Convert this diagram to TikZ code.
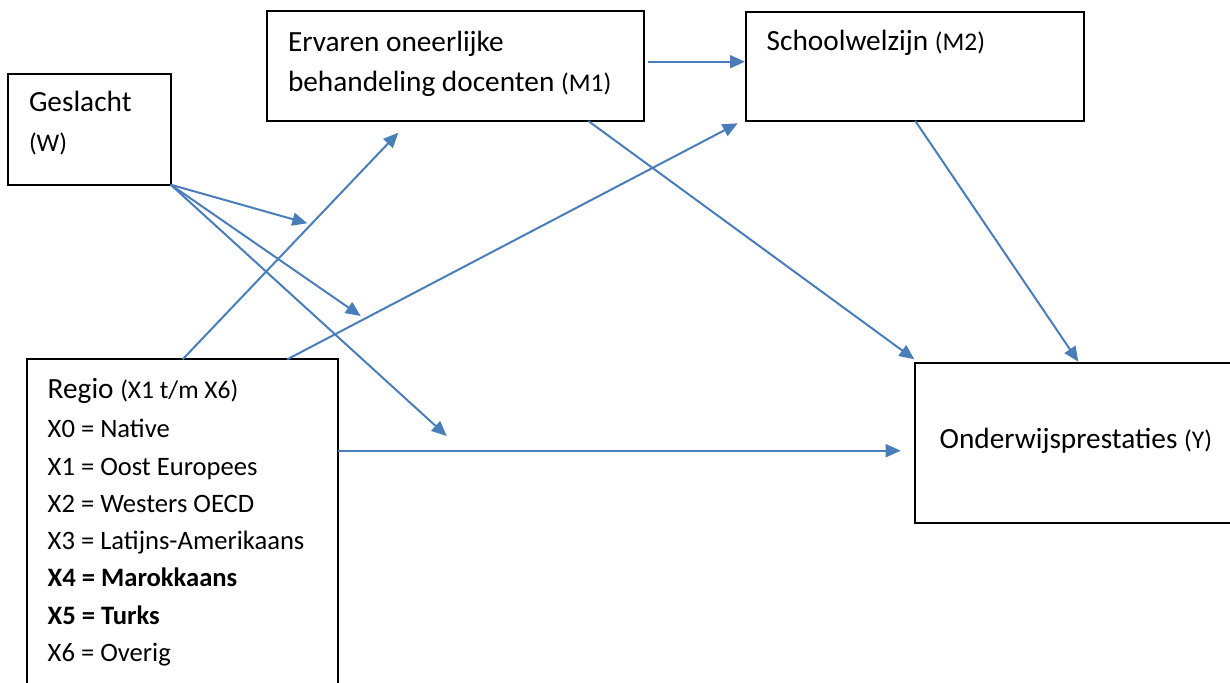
\documentclass[tikz,border=0pt]{standalone}
\usepackage{fontspec}
\setmainfont{Carlito}
\usetikzlibrary{arrows.meta,calc}
\definecolor{arrowblue}{RGB}{74,126,187}
\newcommand\mainsz{\fontsize{29.3}{35}\selectfont}
\newcommand\parsz{\fontsize{25.5}{30}\selectfont}
\newcommand\listsz{\fontsize{26.6}{32}\selectfont}
\tikzset{
  box/.style={draw=black,line width=2pt,inner sep=0pt,outer sep=0pt,anchor=north west},
  lbl/.style={anchor=base west,inner sep=0pt,outer sep=0pt,text=black},
  arr/.style={draw=arrowblue,line width=2pt,-{Triangle[length=15pt,width=13pt]}}
}
\begin{document}
\begin{tikzpicture}[x=1pt,y=-1pt]
\clip (0,0) rectangle (1230,682);
\fill[white] (0,0) rectangle (1230,682);
% boxes
\node[box,minimum width=162.4pt,minimum height=110.7pt] (gesl) at (8.3,74) {};
\node[box,minimum width=377pt,minimum height=110pt] (m1) at (267.3,11) {};
\node[box,minimum width=338pt,minimum height=109.3pt] (m2) at (746,11.7) {};
\node[box,minimum width=311pt,minimum height=340pt] (regio) at (26.7,359.3) {};
\node[box,minimum width=340pt,minimum height=159.7pt] (y) at (915,363) {};
% texts
\node[lbl] (geslt1) at (29,112) {\mainsz Geslacht};
\node[lbl] (geslt2) at (29,151.5) {\parsz (W)};
\node[lbl] (m1t1) at (288,51.7) {\mainsz Ervaren oneerlijke};
\node[lbl] (m1t2) at (288,91.7) {\mainsz behandeling docenten {\parsz(M1)}};
\node[lbl] (m2t) at (766.7,50.7) {\mainsz Schoolwelzijn {\parsz(M2)}};
\node[lbl] (rt0) at (47.7,398.3) {\mainsz Regio {\parsz(X1 t/m X6)}};
\node[lbl] (rt1) at (47.7,437) {\listsz X0 = Native};
\node[lbl] (rt2) at (47.7,475) {\listsz X1 = Oost Europees};
\node[lbl] (rt3) at (47.7,512) {\listsz X2 = Westers OECD};
\node[lbl] (rt4) at (47.7,549) {\listsz X3 = Latijns-Amerikaans};
\node[lbl] (rt5) at (47.7,586.7) {\listsz\bfseries X4 = Marokkaans};
\node[lbl] (rt6) at (47.7,624) {\listsz\bfseries X5 = Turks};
\node[lbl] (rt7) at (47.7,661.7) {\listsz X6 = Overig};
\node[lbl] (yt) at (939.7,448) {\mainsz Onderwijsprestaties {\parsz(Y)}};
% free ends
\coordinate (w1) at (307.3,223.3);
\coordinate (w2) at (360.7,316);
\coordinate (w3) at (446.7,436);
\coordinate (t1) at (398.3,132.7);
\coordinate (t2) at (737.7,123.3);
% connectors
\coordinate (m1out) at ($(m1.north east)+(3.4,50.7)$);
\draw[arr] (m1out) -- ([xshift=-1pt]m1out -| m2.west);
\draw[arr] (gesl.south east) -- (w1);
\draw[arr] (gesl.south east) -- (w2);
\draw[arr] (gesl.south east) -- (w3);
\draw[arr] ([xshift=156pt]regio.north west) -- (t1);
\draw[arr] ([xshift=260.6pt]regio.north west) -- (t2);
\draw[arr] ([xshift=321pt]m1.south west) -- ($(y.north west)+(-0.7,-3.7)$);
\draw[arr] ([xshift=169.3pt]m2.south west) -- ($(y.north west)+(163.3,-1.3)$);
\coordinate (rs) at ($(regio.north east)+(0,91.4)$);
\draw[arr] (rs) -- ($(rs -| y.west)+(-14.3,0)$);
\end{tikzpicture}
\end{document}
